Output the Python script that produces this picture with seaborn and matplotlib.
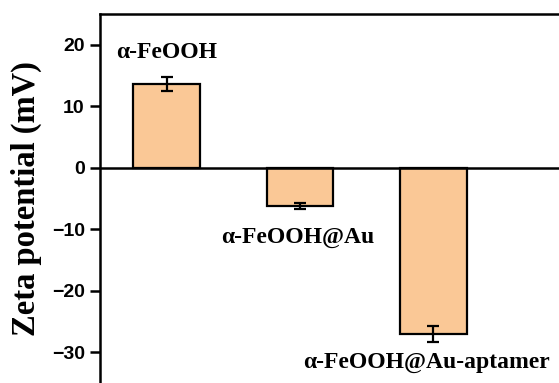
import matplotlib
matplotlib.use("Agg")
import matplotlib.pyplot as plt
import seaborn as sns
import pandas as pd

# Zeta potential measurements
samples = ["α-FeOOH", "α-FeOOH@Au", "α-FeOOH@Au-aptamer"]
zeta = [13.6, -6.2, -27.1]
zeta_err = [1.2, 0.5, 1.3]
yticks = [20, 10, 0, -10, -20, -30]

df = pd.DataFrame({"sample": samples, "zeta": zeta})

sns.set_style("ticks")
plt.rcParams["font.family"] = ["Liberation Sans", "DejaVu Sans"]
plt.rcParams["text.color"] = "black"
plt.rcParams["axes.labelcolor"] = "black"

fig = plt.figure(figsize=(5.59, 3.83), dpi=100)
ax = fig.add_axes([100 / 559, 0.0, 459 / 559, 369 / 383])

bar_color = "#FAC896"
sns.barplot(data=df, x="sample", y="zeta", color=bar_color, width=0.5,
            edgecolor="black", linewidth=1.6, errorbar=None, saturation=1,
            ax=ax)
ax.errorbar(range(len(samples)), zeta, yerr=zeta_err, fmt="none",
            ecolor="black", elinewidth=1.6, capsize=4.5, capthick=1.6,
            zorder=5)

ax.axhline(0, color="black", lw=1.8, zorder=4)

ax.set_xlim(-0.5, 2.943)
ax.set_ylim(-35, 25)
ax.set_xticks([])
ax.set_xlabel("")
ax.set_yticks(yticks)
ax.set_yticklabels([str(v).replace("-", "\u2212") for v in yticks])

for side in ("right", "bottom"):
    ax.spines[side].set_visible(False)
for side in ("left", "top"):
    ax.spines[side].set_linewidth(1.8)
    ax.spines[side].set_color("black")

ax.tick_params(axis="y", direction="out", length=7, width=1.8, pad=4,
               labelsize=14, colors="black", labelcolor="black")
for lbl in ax.get_yticklabels():
    lbl.set_fontweight("bold")

ax.set_ylabel("Zeta potential (mV)", fontsize=23.5, fontweight="bold",
              color="black", family=["Liberation Serif", "DejaVu Serif"])
ax.yaxis.set_label_coords(-0.126, 0.5)

# Sample names placed next to their bars
label_pos = [(0.0, 18.7), (0.98, -11.4), (1.95, -31.6)]
for name, (lx, ly) in zip(samples, label_pos):
    ax.text(lx, ly, name, ha="center", va="center", fontsize=17,
            fontweight="bold", color="black",
            family=["Liberation Serif", "DejaVu Serif"], clip_on=False)

fig.savefig("out.png", dpi=100)
